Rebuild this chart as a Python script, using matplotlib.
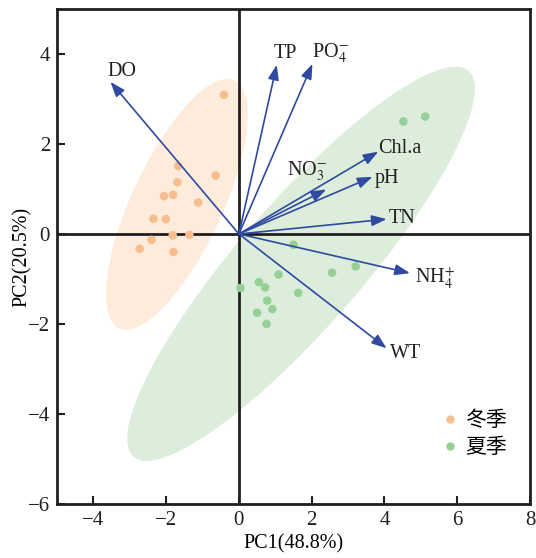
import numpy as np
import matplotlib
matplotlib.use("Agg")
import matplotlib.pyplot as plt
from matplotlib.patches import Ellipse
from matplotlib.lines import Line2D

plt.rcParams['font.family'] = ['Liberation Serif', 'Noto Sans CJK SC', 'DejaVu Sans']
plt.rcParams['mathtext.fontset'] = 'stix'

# ---- data ----
winter_pc1 = [-0.41, -1.67, -0.64, -1.69, -2.06, -1.81, -1.12, -2.35, -2.01, -1.82, -1.36, -2.40, -2.73, -1.80]
winter_pc2 = [3.09, 1.51, 1.30, 1.15, 0.84, 0.87, 0.70, 0.34, 0.33, -0.03, -0.02, -0.13, -0.33, -0.40]
summer_pc1 = [1.50, 3.21, 2.56, 1.09, 0.55, 0.72, 0.04, 1.63, 0.78, 0.92, 0.50, 0.76, 4.52, 5.12]
summer_pc2 = [-0.24, -0.72, -0.86, -0.90, -1.07, -1.19, -1.20, -1.31, -1.48, -1.67, -1.75, -2.00, 2.50, 2.61]

var_names = ['DO', 'TP', 'PO4', 'Chl.a', 'NO3', 'pH', 'TN', 'NH4', 'WT']
var_labels = ['DO', 'TP', r'PO$_4^{-}$', 'Chl.a', r'NO$_3^{-}$', 'pH', 'TN', r'NH$_4^{+}$', 'WT']
load_pc1 = [-3.53, 1.04, 2.02, 3.83, 2.40, 3.67, 4.06, 4.70, 4.06]
load_pc2 = [3.38, 3.76, 3.78, 1.83, 0.99, 1.27, 0.33, -0.87, -2.54]
# label anchor positions (left, baseline)
lab_x = [-3.60, 0.96, 2.00, 3.82, 1.32, 3.74, 4.12, 4.84, 4.15]
lab_y = [3.52, 3.91, 3.91, 1.80, 1.29, 1.13, 0.24, -1.07, -2.76]

groups = ['冬季', '夏季']
xticks = [-4, -2, 0, 2, 4, 6, 8]
yticks = [-6, -4, -2, 0, 2, 4]

pt_colors = ['#F6BE8C', '#96D096']
ell_colors = ['#FDEBDC', '#DDEDDB']
arrow_color = '#2F4AA0'

fig = plt.figure(figsize=(5.36, 5.58), dpi=100)
ax = fig.add_axes([0.1063, 0.0968, 0.8825, 0.8871])
ax.set_xlim(-5, 8)
ax.set_ylim(-6, 5)


def conf_ellipse(x, y, n_std, color):
    x = np.asarray(x); y = np.asarray(y)
    cov = np.cov(x, y)
    vals, vecs = np.linalg.eigh(cov)
    order = vals.argsort()[::-1]
    vals, vecs = vals[order], vecs[:, order]
    angle = np.degrees(np.arctan2(vecs[1, 0], vecs[0, 0]))
    w, h = 2 * n_std * np.sqrt(vals)
    e = Ellipse((x.mean(), y.mean()), w, h, angle=angle, facecolor=color,
                edgecolor='none', zorder=1)
    ax.add_patch(e)


conf_ellipse(winter_pc1, winter_pc2, 3.0, ell_colors[0])
conf_ellipse(summer_pc1, summer_pc2, 3.05, ell_colors[1])

ax.axhline(0, color='#231F20', lw=2, zorder=2)
ax.axvline(0, color='#231F20', lw=2, zorder=2)

ax.scatter(winter_pc1, winter_pc2, s=38, color=pt_colors[0], edgecolors='none', zorder=3)
ax.scatter(summer_pc1, summer_pc2, s=38, color=pt_colors[1], edgecolors='none', zorder=3)

for i in range(len(var_names)):
    ax.annotate('', xy=(load_pc1[i], load_pc2[i]), xytext=(0, 0),
                arrowprops=dict(arrowstyle='-|>,head_length=0.6,head_width=0.22',
                                color=arrow_color, lw=1.2, shrinkA=0, shrinkB=0,
                                mutation_scale=15), zorder=4)
    ax.text(lab_x[i], lab_y[i], var_labels[i], fontsize=14.5, ha='left',
            va='baseline', color='#231F20', zorder=5)

ax.set_xticks(xticks)
ax.set_yticks(yticks)
ax.set_xticklabels([str(t).replace('-', '\u2212') for t in xticks])
ax.set_yticklabels([str(t).replace('-', '\u2212') for t in yticks])
ax.tick_params(direction='in', length=6, width=1.5, labelsize=15, colors='#231F20',
               top=False, right=False, pad=5)
for sp in ax.spines.values():
    sp.set_linewidth(2)
    sp.set_color('#231F20')

ax.set_xlabel('PC1(48.8%)', fontsize=14.5, labelpad=3)
ax.set_ylabel('PC2(20.5%)', fontsize=14.5, labelpad=-3)

handles = [Line2D([], [], marker='o', ls='none', color=pt_colors[k], markersize=6,
                  markeredgewidth=0) for k in range(2)]
leg = ax.legend(handles, groups, loc='lower right', bbox_to_anchor=(0.99, 0.055),
                frameon=False, handletextpad=0.1, handlelength=1.2, labelspacing=0.25,
                prop={'family': ['Noto Sans CJK SC'], 'size': 15})

fig.savefig('out.png', dpi=100)
